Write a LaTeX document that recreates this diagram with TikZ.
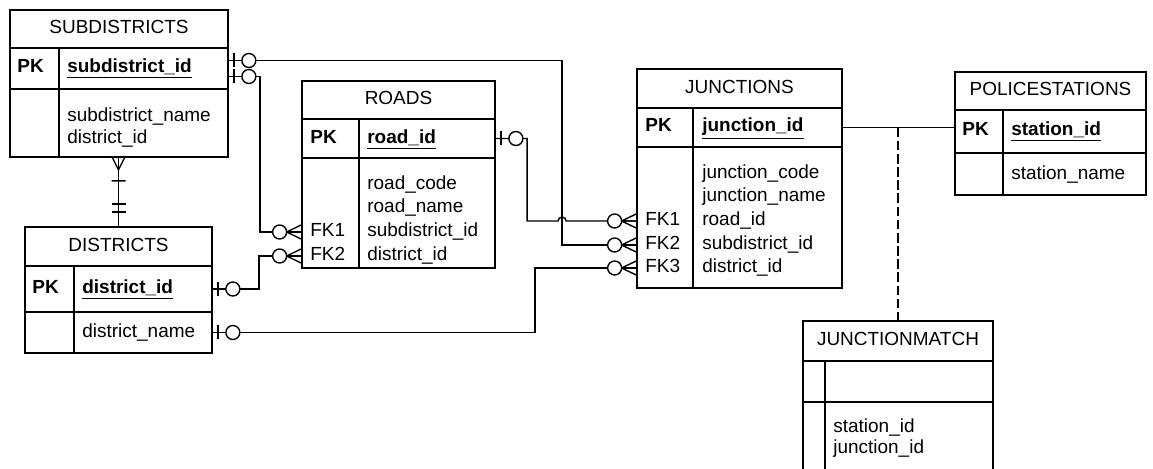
\documentclass[tikz,border=0pt]{standalone}
\usepackage{fontspec}
\setmainfont{Liberation Sans}
\usetikzlibrary{fit, calc}

\begin{document}
\begin{tikzpicture}[x=0.02cm, y=-0.02cm,
  cell/.style     = {draw, line width=1pt, inner sep=0pt},
  txt/.style      = {anchor=west, inner sep=0pt, font=\fontsize{10.8}{13}\selectfont,
                     text height=7.8pt, text depth=2.2pt},
  headtxt/.style  = {txt, anchor=center},
  pktxt/.style    = {txt, font=\fontsize{10.8}{13}\selectfont\bfseries},
  link/.style     = {line width=0.8pt},
  assoc/.style    = {line width=0.8pt, dash pattern=on 5.5pt off 2pt},
  zeroone/.pic    = {\draw[line width=0.8pt] (5,-7) -- (5,7);
                     \draw[line width=0.8pt, fill=white] (20,0) circle[radius=7];},
  zeromany/.pic   = {\draw[line width=0.8pt] (0,-7) -- (14.5,0) -- (0,7) (0,0) -- (14.5,0);
                     \draw[line width=0.8pt, fill=white] (21.5,0) circle[radius=7];},
  onemany/.pic    = {\draw[line width=0.8pt] (0,-6) -- (12,0) -- (0,6) (23,-7) -- (23,7);},
  onlyone/.pic    = {\draw[line width=0.8pt] (14,-7) -- (14,7) (22,-7) -- (22,7);},
]
\fill[white] (0,0) rectangle (1153,469);
\useasboundingbox (0,0) rectangle (1153,469);

%% ── SUBDISTRICTS ─────────────────────────────────────────────────
\node[cell, fit={(10,10) (228,48)}]      (shead)  {};
\node[cell, fit={(10,48) (59,89)}]       (spkkey) {};
\node[cell, fit={(59,48) (228,89)}]      (spk)    {};
\node[cell, fit={(10,89) (59,157)}]      (skey)   {};
\node[cell, fit={(59,89) (228,157)}]     (sattr)  {};
\node[headtxt] (shtxt) at (shead.center) {SUBDISTRICTS};
\node[pktxt] (spklbl) at (17,68)  {PK};
\node[txt]   (sid)    at (67,68)  {\underline{\textbf{subdistrict\_id}}};
\node[txt]   (sname)  at (67,117) {subdistrict\_name};
\node[txt]   (sdist)  at (67,139) {district\_id};

%% ── DISTRICTS ────────────────────────────────────────────────────
\node[cell, fit={(25,227) (212,266)}]     (dhead)  {};
\node[cell, fit={(25,266) (74,312)}]      (dpkkey) {};
\node[cell, fit={(74,266) (212,312)}]     (dpk)    {};
\node[cell, fit={(25,312) (74,353)}]      (dkey)   {};
\node[cell, fit={(74,312) (212,353)}]     (dattr)  {};
\node[headtxt] (dhtxt) at (dhead.center) {DISTRICTS};
\node[pktxt] (dpklbl) at (32,289) {PK};
\node[txt]   (did)    at (82,289) {\underline{\textbf{district\_id}}};
\node[txt]   (dname)  at (82,333) {district\_name};

%% ── ROADS ────────────────────────────────────────────────────────
\node[cell, fit={(302,81) (495,119)}]     (rhead)  {};
\node[cell, fit={(302,119) (359,158)}]    (rpkkey) {};
\node[cell, fit={(359,119) (495,158)}]    (rpk)    {};
\node[cell, fit={(302,158) (359,268)}]    (rkey)   {};
\node[cell, fit={(359,158) (495,268)}]    (rattr)  {};
\node[headtxt] (rhtxt) at (rhead.center) {ROADS};
\node[pktxt] (rpklbl) at (310,139) {PK};
\node[txt]   (rid)    at (367,139) {\underline{\textbf{road\_id}}};
\node[txt]   (rcode)  at (367,185) {road\_code};
\node[txt]   (rname)  at (367,208) {road\_name};
\node[txt]   (rsub)   at (367,232) {subdistrict\_id};
\node[txt]   (rdist)  at (367,256) {district\_id};
\node[txt]   (rfk1)   at (310,232) {FK1};
\node[txt]   (rfk2)   at (310,256) {FK2};

%% ── JUNCTIONS ────────────────────────────────────────────────────
\node[cell, fit={(637,69) (842,108)}]     (jhead)  {};
\node[cell, fit={(637,108) (693,147)}]    (jpkkey) {};
\node[cell, fit={(693,108) (842,147)}]    (jpk)    {};
\node[cell, fit={(637,147) (693,288)}]    (jkey)   {};
\node[cell, fit={(693,147) (842,288)}]    (jattr)  {};
\node[headtxt] (jhtxt) at (jhead.center) {JUNCTIONS};
\node[pktxt] (jpklbl) at (645,127) {PK};
\node[txt]   (jid)    at (702,127) {\underline{\textbf{junction\_id}}};
\node[txt]   (jcode)  at (702,174) {junction\_code};
\node[txt]   (jname)  at (702,197) {junction\_name};
\node[txt]   (jroad)  at (702,221) {road\_id};
\node[txt]   (jsub)   at (702,245) {subdistrict\_id};
\node[txt]   (jdist)  at (702,268) {district\_id};
\node[txt]   (jfk1)   at (645,221) {FK1};
\node[txt]   (jfk2)   at (645,245) {FK2};
\node[txt]   (jfk3)   at (645,268) {FK3};

%% ── POLICESTATIONS ───────────────────────────────────────────────
\node[cell, fit={(955,72) (1146,110)}]     (phead)  {};
\node[cell, fit={(955,110) (1003,153)}]    (ppkkey) {};
\node[cell, fit={(1003,110) (1146,153)}]   (ppk)    {};
\node[cell, fit={(955,153) (1003,195)}]    (pkey)   {};
\node[cell, fit={(1003,153) (1146,195)}]   (pattr)  {};
\node[headtxt] (phtxt) at (phead.center) {POLICESTATIONS};
\node[pktxt] (ppklbl) at (962,131)  {PK};
\node[txt]   (pid)    at (1011,131) {\underline{\textbf{station\_id}}};
\node[txt]   (pname)  at (1011,175) {station\_name};

%% ── JUNCTIONMATCH ────────────────────────────────────────────────
\node[cell, fit={(803,321) (993,361)}]     (mhead)  {};
\node[cell, fit={(803,361) (825,402)}]     (mpkkey) {};
\node[cell, fit={(825,361) (993,402)}]     (mpk)    {};
\node[cell, fit={(803,402) (825,480)}]     (mkey)   {};
\node[cell, fit={(825,402) (993,480)}]     (mattr)  {};
\node[headtxt] (mhtxt) at (mhead.center) {JUNCTIONMATCH};
\node[txt]   (mstat)  at (833,428) {station\_id};
\node[txt]   (mjunc)  at (833,449) {junction\_id};

%% ── Relationships ────────────────────────────────────────────────
\draw[link] ($(spk.east)+(0,-8)$) -| ($(jkey.west |- jfk2)+(-74,0)$) -- (jkey.west |- jfk2);
\draw[link] ($(spk.east)+(0,8)$)  -| ($(rkey.west |- rfk1)+(-41,0)$) -- (rkey.west |- rfk1);
\draw[link] (dhead.north |- sattr.south) -- (dhead.north);
\draw[link] (dpk.east)   -| ($(rkey.west |- rfk2)+(-42,0)$)  -- (rkey.west |- rfk2);
\draw[link] (dattr.east) -| ($(jkey.west |- jfk3)+(-101,0)$) -- (jkey.west |- jfk3);
\draw[link] (rpk.east)   -| ($(jkey.west |- jfk1)+(-109,0)$) -- ($(jkey.west |- jfk1)+(-78,0)$)
  arc[start angle=180, end angle=360, radius=4] -- (jkey.west |- jfk1);
\draw[link]  (jpk.east) -- (jpk.east -| ppkkey.west);
\draw[assoc] (mhead.north |- jpk.east) -- (mhead.north);

%% ── Cardinality marks ────────────────────────────────────────────
\pic at ($(spk.east)+(0,-8)$) {zeroone};
\pic at ($(spk.east)+(0,8)$)  {zeroone};
\pic at (rpk.east)   {zeroone};
\pic at (dpk.east)   {zeroone};
\pic at (dattr.east) {zeroone};
\pic[rotate=180] at (rkey.west |- rfk1) {zeromany};
\pic[rotate=180] at (rkey.west |- rfk2) {zeromany};
\pic[rotate=180] at (jkey.west |- jfk1) {zeromany};
\pic[rotate=180] at (jkey.west |- jfk2) {zeromany};
\pic[rotate=180] at (jkey.west |- jfk3) {zeromany};
\pic[rotate=-90] at (dhead.north |- sattr.south) {onemany};
\pic[rotate=90]  at (dhead.north) {onlyone};

\end{tikzpicture}
\end{document}
